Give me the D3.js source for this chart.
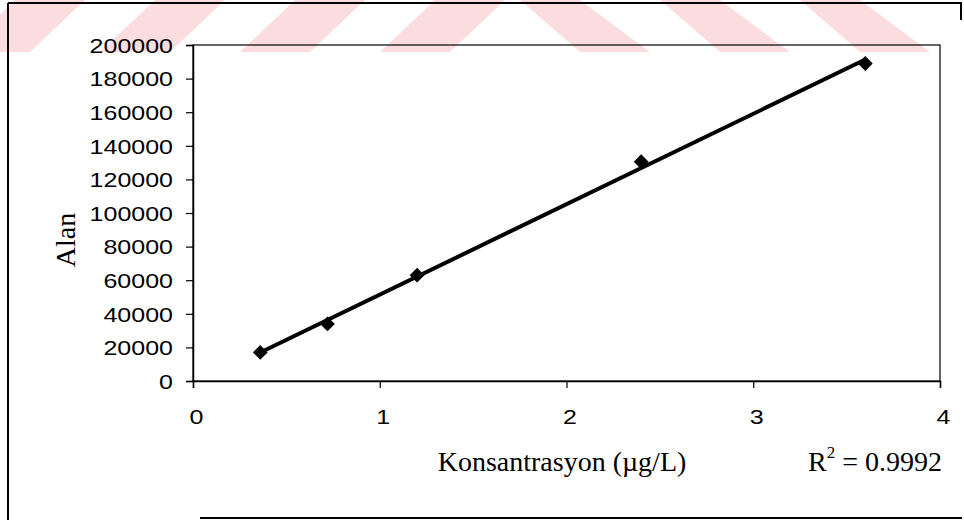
<!DOCTYPE html>
<html>
<head>
<meta charset="utf-8">
<script src="https://cdn.jsdelivr.net/npm/d3@7"></script>
<style>
  html, body { margin: 0; padding: 0; background: #fff; }
  svg { display: block; }
</style>
</head>
<body>
<svg id="chart" width="964" height="520"></svg>
<script>
// ---- data ----
const concentrations = [0.36, 0.72, 1.2, 2.4, 3.6];
const areas = [17000, 34000, 63000, 130500, 189000];
const xTicks = [0, 1, 2, 3, 4];
const yTicks = [0, 20000, 40000, 60000, 80000, 100000, 120000, 140000, 160000, 180000, 200000];
const xTitle = "Konsantrasyon (µg/L)";
const yTitle = "Alan";
const r2Label = "0.9992";

const svg = d3.select("#chart");

const m = { left: 193, right: 940, top: 45, bottom: 381 };
const x = d3.scaleLinear().domain([0, 4]).range([m.left, m.right]);
const y = d3.scaleLinear().domain([0, 200000]).range([m.bottom, m.top]);

// plot area fill
svg.append("rect")
  .attr("x", m.left).attr("y", m.top)
  .attr("width", m.right - m.left).attr("height", m.bottom - m.top)
  .attr("fill", "#fff");

// decorative watermark stripes at the top (drawn over the page, under the ink)
const stripeG = svg.append("g").attr("fill", "#fbdde0");
const leftStarts = [-40, 100, 240, 380];
const rightStarts = [520, 660, 800];
leftStarts.forEach(s => {
  stripeG.append("path").attr("d", `M${s},52 L${s + 70},52 L${s + 125},0 L${s + 55},0 Z`);
});
rightStarts.forEach(s => {
  stripeG.append("path").attr("d", `M${s},0 L${s + 60},0 L${s + 130},52 L${s + 60},52 Z`);
});

// plot area border
svg.append("rect")
  .attr("x", m.left).attr("y", m.top)
  .attr("width", m.right - m.left).attr("height", m.bottom - m.top)
  .attr("fill", "none").attr("stroke", "#000").attr("stroke-width", 1.2);

// outer frame
const frame = svg.append("g").attr("stroke", "#000").attr("stroke-width", 2).attr("fill", "none");
frame.append("line").attr("x1", 8).attr("x2", 8).attr("y1", 3).attr("y2", 520);
frame.append("line").attr("x1", 8).attr("x2", 962).attr("y1", 3).attr("y2", 3);
frame.append("line").attr("x1", 200).attr("x2", 962).attr("y1", 518).attr("y2", 518);
frame.append("line").attr("x1", 961).attr("x2", 961).attr("y1", 3).attr("y2", 20);

const SX = 1.22;
// axes
const xAxis = svg.append("g").attr("transform", `translate(0,${m.bottom})`)
  .call(d3.axisBottom(x).tickValues(xTicks).tickFormat(d3.format("d")).tickSize(7));
const yAxis = svg.append("g").attr("transform", `translate(${m.left},0)`)
  .call(d3.axisLeft(y).tickValues(yTicks).tickFormat(d3.format("d")).tickSize(7));
[xAxis, yAxis].forEach(a => {
  a.select(".domain").attr("stroke", "#000").attr("stroke-width", 1.5);
  a.selectAll(".tick line").attr("stroke", "#000").attr("stroke-width", 1.2);
  a.selectAll(".tick text").attr("fill", "#000")
    .style("font-family", "'Liberation Sans', Arial, sans-serif").style("font-size", "20.5px");
});
yAxis.selectAll(".tick text")
  .attr("x", 0).attr("dy", "0.36em")
  .attr("transform", `translate(-20,0) scale(${SX},1)`);
xAxis.selectAll(".tick text")
  .attr("y", 0).attr("dy", 0)
  .attr("transform", `translate(3,43) scale(${SX},1)`);

// linear trend line from data
const n = concentrations.length;
const mx = d3.mean(concentrations), my = d3.mean(areas);
let sxy = 0, sxx = 0;
for (let i = 0; i < n; i++) {
  sxy += (concentrations[i] - mx) * (areas[i] - my);
  sxx += (concentrations[i] - mx) ** 2;
}
const slope = sxy / sxx, intercept = my - slope * mx;
const xMin = d3.min(concentrations), xMax = d3.max(concentrations);
svg.append("line")
  .attr("x1", x(xMin)).attr("y1", y(slope * xMin + intercept))
  .attr("x2", x(xMax)).attr("y2", y(slope * xMax + intercept))
  .attr("stroke", "#000").attr("stroke-width", 4);

// markers
const pts = concentrations.map((c, i) => ({ c, a: areas[i] }));
svg.append("g").selectAll("path").data(pts).join("path")
  .attr("transform", d => `translate(${x(d.c)},${y(d.a)})`)
  .attr("d", d3.symbol(d3.symbolDiamond2, 140))
  .attr("fill", "#000");

// titles
const serif = "'Liberation Serif', 'Times New Roman', serif";
svg.append("text")
  .attr("transform", `translate(75,240) rotate(-90)`)
  .attr("text-anchor", "middle")
  .style("font-family", serif).style("font-size", "28px")
  .text(yTitle);

svg.append("text")
  .attr("x", 562).attr("y", 471).attr("text-anchor", "middle")
  .style("font-family", serif).style("font-size", "28px")
  .text(xTitle);

const r2 = svg.append("text")
  .attr("x", 942).attr("y", 471).attr("text-anchor", "end")
  .style("font-family", serif).style("font-size", "28px");
r2.append("tspan").text("R");
r2.append("tspan").attr("dy", -13).style("font-size", "17px").text("2");
r2.append("tspan").attr("dy", 13).text(" = " + r2Label);
</script>
</body>
</html>
